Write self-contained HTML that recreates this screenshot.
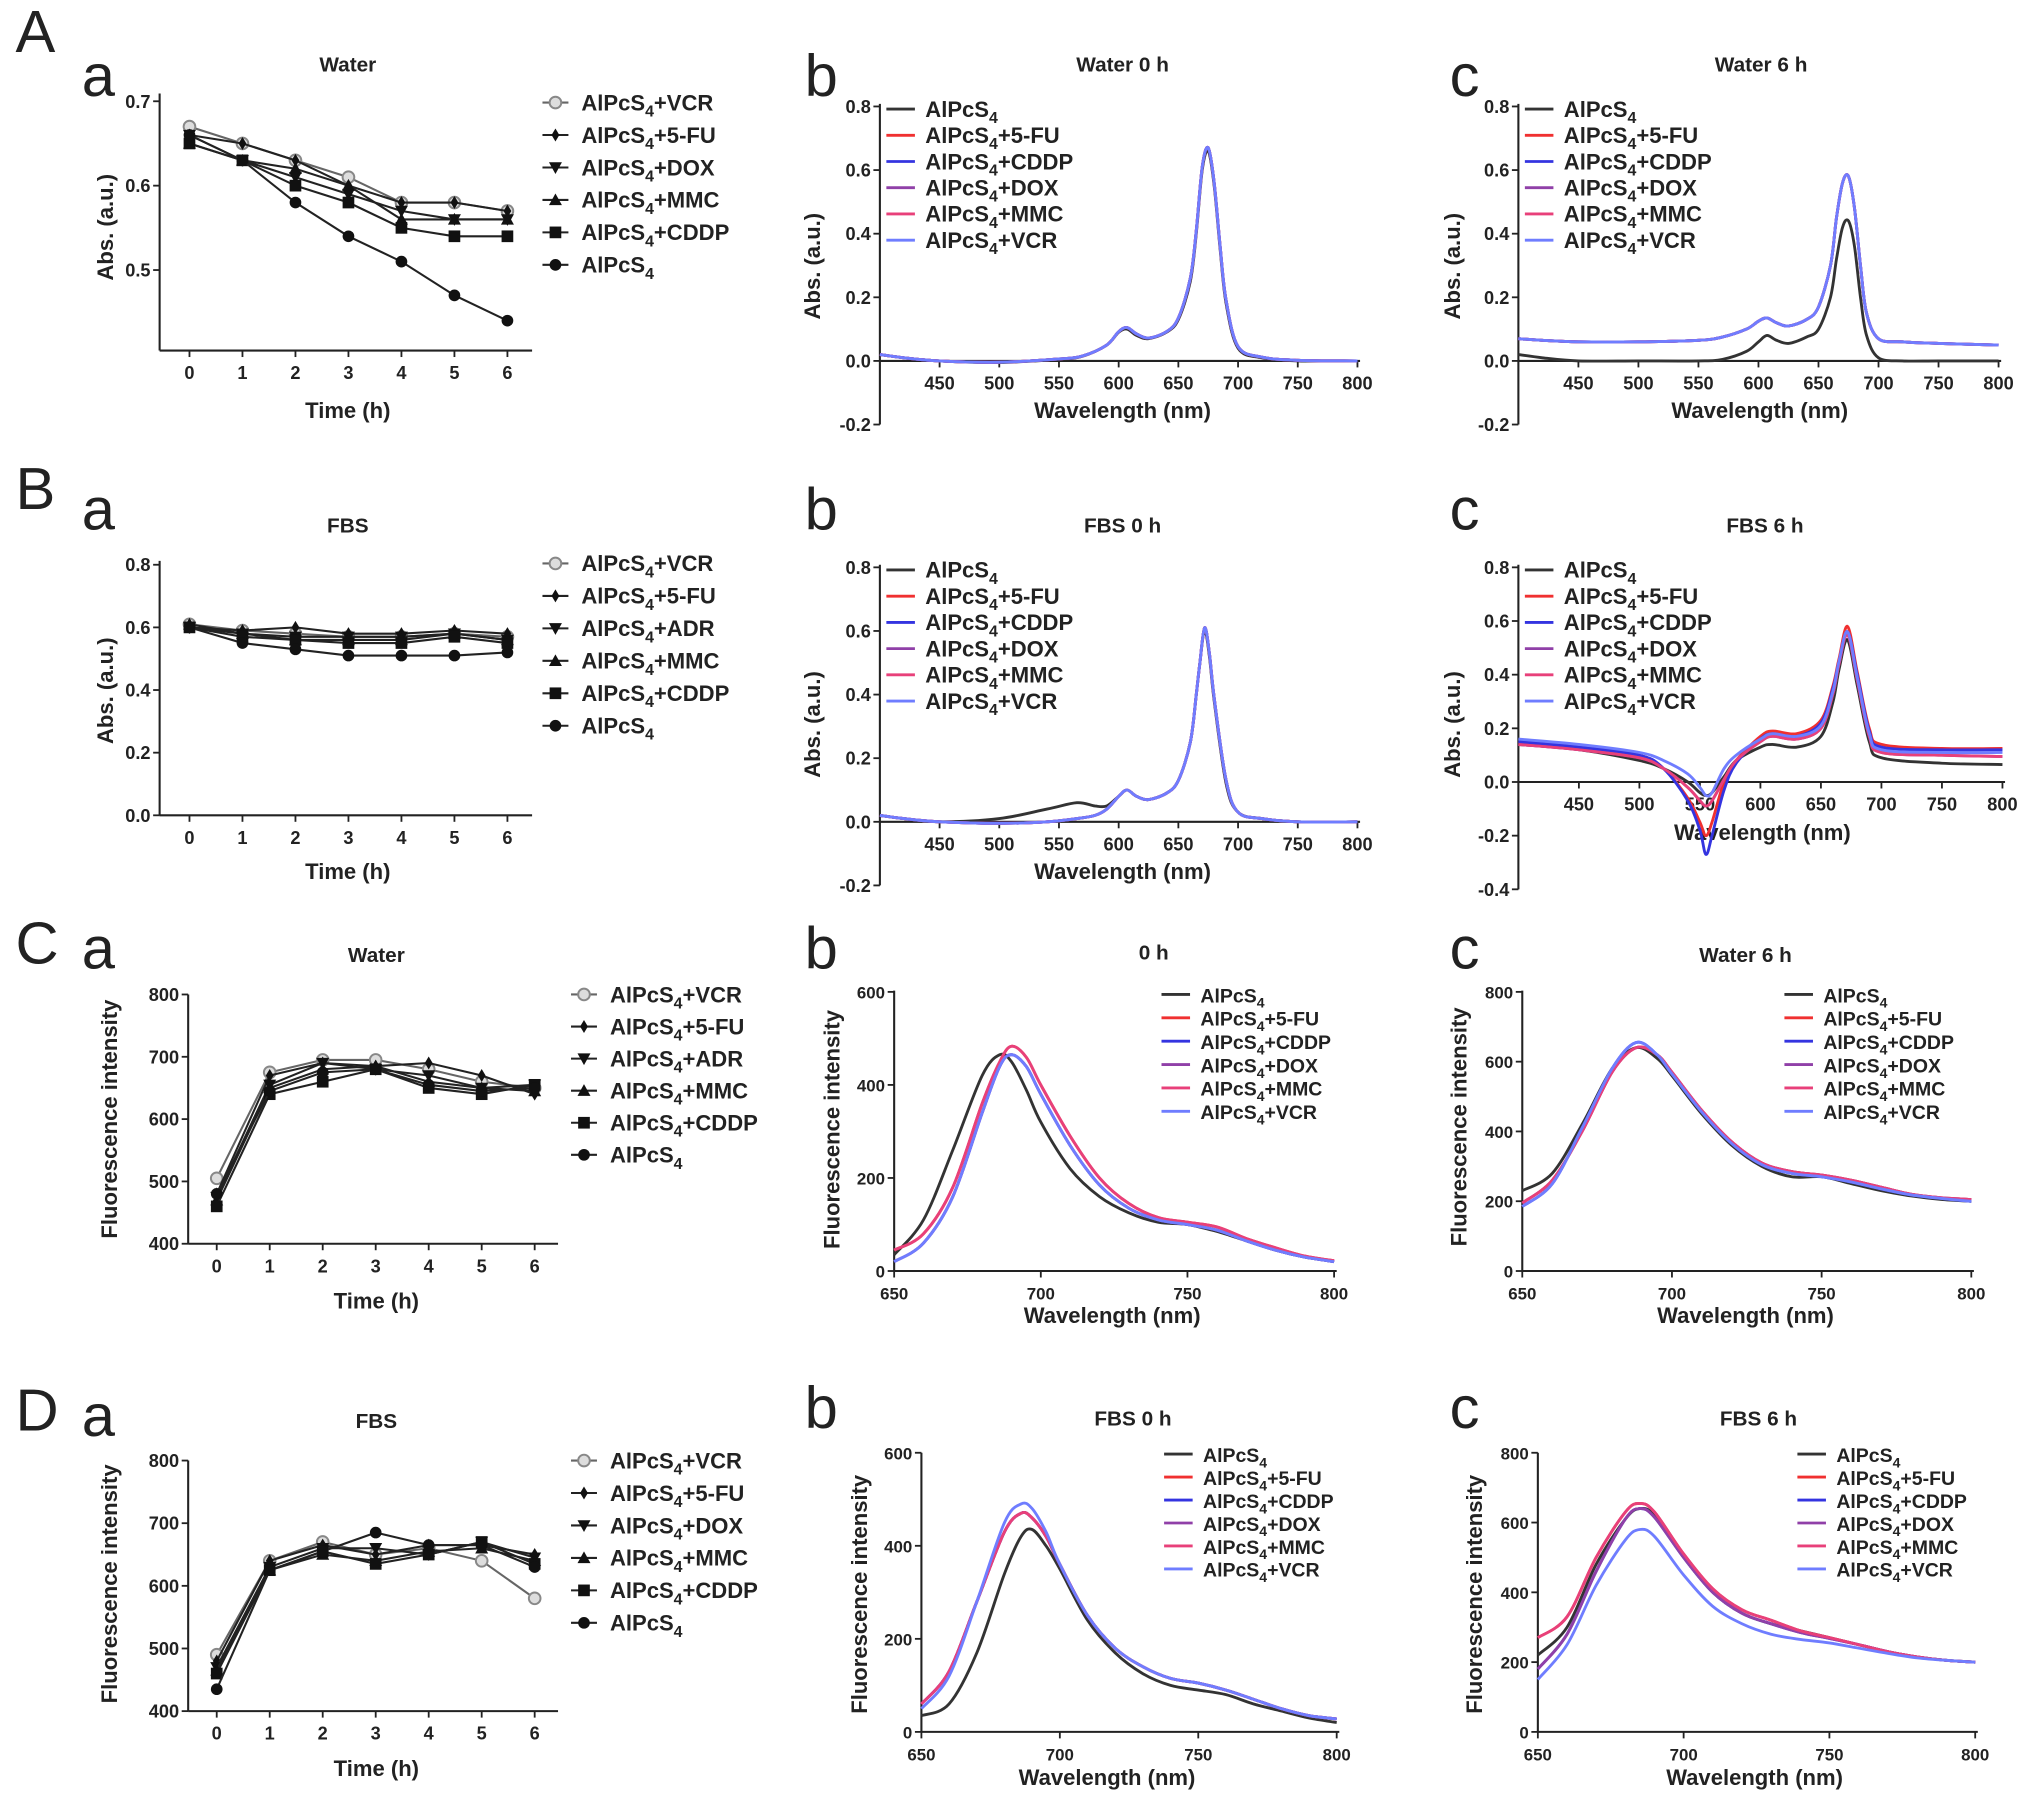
<!DOCTYPE html>
<html><head><meta charset="utf-8"><style>
html,body{margin:0;padding:0;background:#fff;}
svg{display:block;font-family:"Liberation Sans",Arial,sans-serif;}
</style></head><body>
<svg id="fig" width="2031" height="1802" viewBox="0 0 1565 1388" preserveAspectRatio="none" xmlns="http://www.w3.org/2000/svg"></svg>
<script>
// ---------- data ----------
const timeCats=[0,1,2,3,4,5,6];
// A-a Water absorbance
const aaVCR=[0.67,0.65,0.63,0.61,0.58,0.58,0.57];
const aa5FU=[0.66,0.65,0.63,0.60,0.58,0.58,0.57];
const aaDOX=[0.66,0.63,0.61,0.59,0.57,0.56,0.56];
const aaMMC=[0.65,0.63,0.62,0.60,0.56,0.56,0.56];
const aaCDDP=[0.65,0.63,0.60,0.58,0.55,0.54,0.54];
const aaAl=[0.66,0.63,0.58,0.54,0.51,0.47,0.44];
// B-a FBS absorbance
const baVCR=[0.61,0.59,0.58,0.57,0.57,0.58,0.57];
const ba5FU=[0.60,0.59,0.60,0.58,0.58,0.59,0.58];
const baADR=[0.60,0.58,0.57,0.57,0.57,0.58,0.56];
const baMMC=[0.61,0.58,0.56,0.56,0.56,0.58,0.56];
const baCDDP=[0.60,0.57,0.56,0.55,0.55,0.57,0.55];
const baAl=[0.60,0.55,0.53,0.51,0.51,0.51,0.52];
// C-a Water fluorescence
const caVCR=[505,675,695,695,680,660,650];
const ca5FU=[480,670,690,685,690,670,640];
const caADR=[475,655,690,680,670,650,655];
const caMMC=[470,650,680,685,660,650,645];
const caCDDP=[460,640,660,680,650,640,655];
const caAl=[480,645,675,680,655,645,650];
// D-a FBS fluorescence
const daVCR=[490,640,670,650,660,640,580];
const da5FU=[480,640,665,650,665,665,650];
const daDOX=[470,630,660,660,650,670,645];
const daMMC=[465,625,650,640,655,660,640];
const daCDDP=[460,625,655,635,650,670,635];
const daAl=[435,625,655,685,665,665,630];
// A-b Water 0 h absorbance spectra
const abWL=[400,420,450,500,550,570,590,600,607,615,625,640,650,660,665,670,675,680,685,690,700,720,750,800];
const abAl=[0.02,0.01,0,-0.005,0.005,0.015,0.05,0.09,0.1,0.08,0.07,0.09,0.13,0.25,0.4,0.6,0.66,0.55,0.35,0.18,0.04,0.01,0,0];
const abCol=[0.02,0.01,0,-0.004,0.006,0.016,0.05,0.092,0.105,0.085,0.072,0.092,0.135,0.26,0.41,0.61,0.67,0.56,0.36,0.19,0.045,0.012,0.002,0];
// A-c Water 6 h
const acWL=abWL;
const acAl=[0.02,0.01,0,0,0,0.005,0.03,0.06,0.08,0.065,0.055,0.075,0.1,0.2,0.32,0.42,0.44,0.36,0.2,0.08,0.01,0,0,0];
const acCol=[0.07,0.065,0.06,0.06,0.065,0.075,0.1,0.125,0.135,0.12,0.11,0.13,0.17,0.3,0.45,0.56,0.58,0.48,0.3,0.15,0.07,0.06,0.055,0.05];
// B-b FBS 0 h
const bbWL=[400,420,450,500,540,565,580,590,600,607,615,625,640,650,660,665,668,672,676,680,690,700,720,750,800];
const bbAl=[0.02,0.01,0,0.01,0.04,0.06,0.05,0.05,0.08,0.1,0.08,0.07,0.09,0.13,0.25,0.4,0.5,0.6,0.52,0.38,0.12,0.03,0.01,0,0];
const bbCol=[0.02,0.01,0,-0.005,0,0.01,0.02,0.04,0.08,0.1,0.08,0.07,0.09,0.13,0.25,0.4,0.5,0.61,0.53,0.39,0.13,0.03,0.01,0,0];
// B-c FBS 6 h
const bcWL=[400,450,500,520,540,550,555,560,570,580,600,610,630,650,660,665,672,680,690,700,750,800];
const bcAl=[0.14,0.12,0.08,0.05,0.0,-0.04,-0.05,-0.04,0.02,0.08,0.13,0.14,0.13,0.17,0.3,0.42,0.53,0.36,0.15,0.09,0.07,0.065];
const bcRed=[0.15,0.13,0.1,0.05,-0.06,-0.15,-0.2,-0.15,0.0,0.08,0.17,0.19,0.18,0.23,0.36,0.46,0.58,0.41,0.2,0.14,0.125,0.125];
const bcCDDP=[0.15,0.13,0.1,0.05,-0.07,-0.18,-0.27,-0.2,-0.03,0.07,0.16,0.18,0.17,0.22,0.35,0.45,0.56,0.4,0.19,0.13,0.12,0.12];
const bcDOX=[0.14,0.12,0.09,0.05,-0.02,-0.07,-0.09,-0.07,0.01,0.08,0.15,0.17,0.16,0.2,0.33,0.44,0.55,0.38,0.17,0.11,0.1,0.095];
const bcVCR=[0.16,0.14,0.11,0.08,0.03,-0.02,-0.05,-0.04,0.05,0.1,0.16,0.18,0.17,0.21,0.34,0.45,0.56,0.39,0.18,0.12,0.11,0.11];
// C-b 0 h fluorescence
const cbWL=[650,660,670,680,686,690,695,700,710,720,730,740,750,760,770,780,790,800];
const cbAl=[35,110,260,420,465,450,390,320,220,160,125,105,100,85,65,45,30,20];
const cbRed=[45,80,180,360,450,483,460,400,290,200,145,115,105,95,70,50,32,22];
const cbBlue=[20,60,160,340,440,465,440,380,270,185,135,110,100,88,65,45,30,20];
// C-c Water 6 h fluorescence
const ccWL=[650,660,670,680,688,695,700,710,720,730,740,750,760,770,780,790,800];
const ccAl=[230,280,420,580,640,610,560,450,360,300,270,270,250,230,215,205,200];
const ccRed=[195,260,400,570,640,620,570,460,370,310,285,275,260,240,220,210,205];
const ccBlue=[185,250,410,580,655,620,565,455,365,305,280,270,255,235,218,208,200];
// D-b FBS 0 h fluorescence
const dbWL=[650,660,670,680,686,690,695,700,710,720,730,740,750,760,770,780,790,800];
const dbAl=[35,60,170,340,420,435,400,350,240,170,125,100,90,80,60,45,30,20];
const dbRed=[60,130,280,430,470,460,420,360,250,180,140,115,105,90,70,50,35,28];
const dbVCR=[50,120,280,450,490,480,430,360,250,180,140,115,105,90,70,50,35,28];
// D-c FBS 6 h fluorescence
const dcWL=[650,660,670,680,685,690,700,710,720,730,740,750,760,770,780,790,800];
const dcAl=[220,300,480,610,640,620,500,400,340,310,290,270,250,230,215,205,200];
const dcRed=[270,330,500,630,655,630,510,410,350,320,290,270,250,230,215,205,200];
const dcVCR=[150,250,420,550,580,560,450,360,310,280,265,255,240,225,212,205,200];
const dcCDDP=[180,280,460,610,640,615,500,400,340,310,285,268,250,230,215,205,200];

const absTicks=["-0.2","0.0","0.2","0.4","0.6","0.8"];
const wlTicksA=["450","500","550","600","650","700","750","800"];
const wlTicksF=["650","700","750","800"];

// ---------- drawing ----------
const NS="http://www.w3.org/2000/svg";
const svg=document.getElementById('fig');
function mk(tag,attrs,parent){const e=document.createElementNS(NS,tag);for(const k in attrs)e.setAttribute(k,attrs[k]);(parent||svg).appendChild(e);return e;}
function txt(s,x,y,size,anchor,parent,bold,rot){const e=mk('text',{x:x,y:y,'font-size':size,'text-anchor':anchor||'middle',fill:'#222','font-weight':bold===false?'normal':'bold'},parent);if(rot)e.setAttribute('transform','rotate(-90 '+x+' '+y+')');e.textContent=s;return e;}
function lbl(name,x,y,size,parent){const e=mk('text',{x:x,y:y,'font-size':size,'font-weight':'bold',fill:'#222'},parent);
  const a=mk('tspan',{},e);a.textContent='AlPcS';const b=mk('tspan',{dy:size*0.28,'font-size':size*0.72},e);b.textContent='4';
  if(name){const c=mk('tspan',{dy:-size*0.28},e);c.textContent='+'+name;}return e;}

function scale(d0,d1,r0,r1){return v=>r0+(v-d0)*(r1-r0)/(d1-d0);}
function smoothPath(P){
  let d='M'+P[0][0].toFixed(1)+','+P[0][1].toFixed(1);
  for(let i=0;i<P.length-1;i++){
    const p0=P[Math.max(0,i-1)],p1=P[i],p2=P[i+1],p3=P[Math.min(P.length-1,i+2)];
    const c1x=p1[0]+(p2[0]-p0[0])/6,c1y=p1[1]+(p2[1]-p0[1])/6;
    const c2x=p2[0]-(p3[0]-p1[0])/6,c2y=p2[1]-(p3[1]-p1[1])/6;
    d+=' C'+c1x.toFixed(1)+','+c1y.toFixed(1)+' '+c2x.toFixed(1)+','+c2y.toFixed(1)+' '+p2[0].toFixed(1)+','+p2[1].toFixed(1);
  }
  return d;
}

function axes(g,o){
  const px=scale(o.xd0,o.xd1,o.xr0,o.xr1), py=scale(o.yd0,o.yd1,o.yr0,o.yr1);
  const yaxis=mk('line',{x1:o.left,x2:o.left,y1:o.top,y2:o.bottom,stroke:'#222','stroke-width':1.6},g);
  
  const xy=o.xAxisAt!==undefined?py(o.xAxisAt):o.bottom;
  const xaxis=mk('line',{x1:o.left,x2:o.right,y1:xy,y2:xy,stroke:'#222','stroke-width':1.6},g);
  
  o.yt.forEach(t=>{const y=py(parseFloat(t));mk('line',{x1:o.left-5,x2:o.left,y1:y,y2:y,stroke:'#222','stroke-width':1.4},g);
    const e=txt(t,o.left-7,y+5,o.tfs||14,'end',g);});
  o.xt.forEach(t=>{const x=px(parseFloat(t));mk('line',{x1:x,x2:x,y1:xy,y2:xy+5,stroke:'#222','stroke-width':1.4},g);
    const e=txt(t,x,xy+22,o.tfs||14,'middle',g);});
  let e=txt(o.title,o.titleX,o.titleY,16,'middle',g);
  e=txt(o.xlab,o.xlabX,o.xlabY,17,'middle',g);
  e=txt(o.ylab,o.ylabX,o.ylabY,17,'middle',g,true,true);
  return [px,py];
}

function marker(g,type,x,y){
  let e;
  if(type==='open') e=mk('circle',{cx:x,cy:y,r:4.5,fill:'#ddd',stroke:'#888','stroke-width':1.5},g);
  else if(type==='circle') e=mk('circle',{cx:x,cy:y,r:4.5,fill:'#111'},g);
  else if(type==='square') e=mk('rect',{x:x-4.5,y:y-4.5,width:9,height:9,fill:'#111'},g);
  else if(type==='up') e=mk('polygon',{points:`${x},${y-5} ${x-5},${y+4} ${x+5},${y+4}`,fill:'#111'},g);
  else if(type==='down') e=mk('polygon',{points:`${x},${y+5} ${x-5},${y-4} ${x+5},${y-4}`,fill:'#111'},g);
  else e=mk('polygon',{points:`${x},${y-5} ${x+3},${y} ${x},${y+5} ${x-3},${y}`,fill:'#111'},g);
  return e;
}

function timePanel(o,series,legX,legY0,legDy,legFs){
  const g=mk('g',{});  
  const [px,py]=axes(g,o);
  series.forEach((s,i)=>{
    const pts=s.v.map((v,j)=>px(timeCats[j])+','+py(v)).join(' ');
    const pl=mk('polyline',{points:pts,fill:'none',stroke:s.type==='open'?'#666':'#222','stroke-width':1.6},g);
    
    s.v.forEach((v,j)=>{const m=marker(g,s.type,px(timeCats[j]),py(v));});
    const ly=legY0+i*legDy;
    const lg=mk('g',{},g);
    mk('line',{x1:legX,x2:legX+20,y1:ly,y2:ly,stroke:s.type==='open'?'#666':'#222','stroke-width':1.6},lg);
    marker(lg,s.type,legX+10,ly);
    lbl(s.name,legX+30,ly+6,legFs,lg);
  });
}

function specPanel(o,wl,series,legX,legY0,legDy,legFs){
  const g=mk('g',{});  
  const [px,py]=axes(g,o);
  series.forEach((s,i)=>{
    const P=s.v.map((v,j)=>[px(wl[j]),py(v)]);
    const pl=mk('path',{d:smoothPath(P),fill:'none',stroke:s.c,'stroke-width':2.2,'stroke-linejoin':'round'},g);
    
  });
  series.forEach((s,i)=>{
    const ly=legY0+i*legDy;
    const lg=mk('g',{},g);
    mk('line',{x1:legX,x2:legX+22,y1:ly,y2:ly,stroke:s.c,'stroke-width':2.2},lg);
    lbl(s.name,legX+30,ly+6,legFs,lg);
  });
}

const C={al:'#333',red:'#f03030',blue:'#3434e0',dox:'#9040a8',mmc:'#e8407a',vcr:'#6f7dff'};

// Panel letters
[['A',12,40],['B',12,392],['C',12,742],['D',12,1102]].forEach(l=>{const e=txt(l[0],l[1],l[2],46,'start',svg,false);});
[['a',63,74],['b',620,74],['c',1117,74],['a',63,408],['b',620,408],['c',1117,408],['a',63,746],['b',620,746],['c',1117,746],['a',63,1106],['b',620,1100],['c',1117,1100]].forEach(l=>{const e=txt(l[0],l[1],l[2],46,'start',svg,false);});

// A-a
timePanel({name:'panel-A-a',left:123,right:410,top:72,bottom:270,xd0:0,xd1:6,xr0:146,xr1:391,yd0:0.5,yd1:0.7,yr0:208,yr1:78,
  yt:["0.5","0.6","0.7"],xt:["0","1","2","3","4","5","6"],title:'Water',titleX:268,titleY:55,xlab:'Time (h)',xlabX:268,xlabY:322,ylabX:87,ylabY:175,ylab:'Abs. (a.u.)'},
  [{key:'vcr',name:'VCR',type:'open',v:aaVCR},{key:'5fu',name:'5-FU',type:'diamond',v:aa5FU},{key:'dox',name:'DOX',type:'down',v:aaDOX},
   {key:'mmc',name:'MMC',type:'up',v:aaMMC},{key:'cddp',name:'CDDP',type:'square',v:aaCDDP},{key:'alpcs4',name:'',type:'circle',v:aaAl}],418,79,25,17);
// B-a
timePanel({name:'panel-B-a',left:123,right:410,top:432,bottom:628,xd0:0,xd1:6,xr0:146,xr1:391,yd0:0,yd1:0.8,yr0:628,yr1:435,
  yt:["0.0","0.2","0.4","0.6","0.8"],xt:["0","1","2","3","4","5","6"],title:'FBS',titleX:268,titleY:410,xlab:'Time (h)',xlabX:268,xlabY:677,ylabX:87,ylabY:532,ylab:'Abs. (a.u.)'},
  [{key:'vcr',name:'VCR',type:'open',v:baVCR},{key:'5fu',name:'5-FU',type:'diamond',v:ba5FU},{key:'adr',name:'ADR',type:'down',v:baADR},
   {key:'mmc',name:'MMC',type:'up',v:baMMC},{key:'cddp',name:'CDDP',type:'square',v:baCDDP},{key:'alpcs4',name:'',type:'circle',v:baAl}],418,434,25,17);
// C-a
timePanel({name:'panel-C-a',left:145,right:430,top:766,bottom:958,xd0:0,xd1:6,xr0:167,xr1:412,yd0:400,yd1:800,yr0:958,yr1:766,
  yt:["400","500","600","700","800"],xt:["0","1","2","3","4","5","6"],title:'Water',titleX:290,titleY:741,xlab:'Time (h)',xlabX:290,xlabY:1008,ylabX:90,ylabY:862,ylab:'Fluorescence intensity'},
  [{key:'vcr',name:'VCR',type:'open',v:caVCR},{key:'5fu',name:'5-FU',type:'diamond',v:ca5FU},{key:'adr',name:'ADR',type:'down',v:caADR},
   {key:'mmc',name:'MMC',type:'up',v:caMMC},{key:'cddp',name:'CDDP',type:'square',v:caCDDP},{key:'alpcs4',name:'',type:'circle',v:caAl}],440,766,24.7,17);
// D-a
timePanel({name:'panel-D-a',left:145,right:430,top:1125,bottom:1318,xd0:0,xd1:6,xr0:167,xr1:412,yd0:400,yd1:800,yr0:1318,yr1:1125,
  yt:["400","500","600","700","800"],xt:["0","1","2","3","4","5","6"],title:'FBS',titleX:290,titleY:1100,xlab:'Time (h)',xlabX:290,xlabY:1368,ylabX:90,ylabY:1220,ylab:'Fluorescence intensity'},
  [{key:'vcr',name:'VCR',type:'open',v:daVCR},{key:'5fu',name:'5-FU',type:'diamond',v:da5FU},{key:'dox',name:'DOX',type:'down',v:daDOX},
   {key:'mmc',name:'MMC',type:'up',v:daMMC},{key:'cddp',name:'CDDP',type:'square',v:daCDDP},{key:'alpcs4',name:'',type:'circle',v:daAl}],440,1125,25,17);

// A-b
specPanel({name:'panel-A-b',left:678,right:1048,top:80,bottom:327,xd0:400,xd1:800,xr0:678,xr1:1046,yd0:-0.2,yd1:0.8,yr0:327,yr1:82,xAxisAt:0,
  yt:absTicks,xt:wlTicksA,title:'Water 0 h',titleX:865,titleY:55,xlab:'Wavelength (nm)',xlabX:865,xlabY:322,ylabX:632,ylabY:205,ylab:'Abs. (a.u.)'},abWL,
  [{key:'alpcs4',name:'',c:C.al,v:abAl},{key:'5fu',name:'5-FU',c:C.red,v:abCol},{key:'cddp',name:'CDDP',c:C.blue,v:abCol},
   {key:'dox',name:'DOX',c:C.dox,v:abCol},{key:'mmc',name:'MMC',c:C.mmc,v:abCol},{key:'vcr',name:'VCR',c:C.vcr,v:abCol}],683,84,20.2,17);
// A-c
specPanel({name:'panel-A-c',left:1170,right:1542,top:80,bottom:327,xd0:400,xd1:800,xr0:1170,xr1:1540,yd0:-0.2,yd1:0.8,yr0:327,yr1:82,xAxisAt:0,
  yt:absTicks,xt:wlTicksA,title:'Water 6 h',titleX:1357,titleY:55,xlab:'Wavelength (nm)',xlabX:1356,xlabY:322,ylabX:1125,ylabY:205,ylab:'Abs. (a.u.)'},acWL,
  [{key:'alpcs4',name:'',c:C.al,v:acAl},{key:'5fu',name:'5-FU',c:C.red,v:acCol},{key:'cddp',name:'CDDP',c:C.blue,v:acCol},
   {key:'dox',name:'DOX',c:C.dox,v:acCol},{key:'mmc',name:'MMC',c:C.mmc,v:acCol},{key:'vcr',name:'VCR',c:C.vcr,v:acCol}],1175,84,20.2,17);
// B-b
specPanel({name:'panel-B-b',left:678,right:1048,top:435,bottom:682,xd0:400,xd1:800,xr0:678,xr1:1046,yd0:-0.2,yd1:0.8,yr0:682,yr1:437,xAxisAt:0,
  yt:absTicks,xt:wlTicksA,title:'FBS 0 h',titleX:865,titleY:410,xlab:'Wavelength (nm)',xlabX:865,xlabY:677,ylabX:632,ylabY:558,ylab:'Abs. (a.u.)'},bbWL,
  [{key:'alpcs4',name:'',c:C.al,v:bbAl},{key:'5fu',name:'5-FU',c:C.red,v:bbCol},{key:'cddp',name:'CDDP',c:C.blue,v:bbCol},
   {key:'dox',name:'DOX',c:C.dox,v:bbCol},{key:'mmc',name:'MMC',c:C.mmc,v:bbCol},{key:'vcr',name:'VCR',c:C.vcr,v:bbCol}],683,439,20.2,17);
// B-c
specPanel({name:'panel-B-c',left:1170,right:1545,top:435,bottom:685,xd0:400,xd1:800,xr0:1170,xr1:1543,yd0:-0.4,yd1:0.8,yr0:685,yr1:437,xAxisAt:0,
  yt:["-0.4","-0.2","0.0","0.2","0.4","0.6","0.8"],xt:wlTicksA,title:'FBS 6 h',titleX:1360,titleY:410,xlab:'Wavelength (nm)',xlabX:1358,xlabY:647,ylabX:1125,ylabY:558,ylab:'Abs. (a.u.)'},bcWL,
  [{key:'alpcs4',name:'',c:C.al,v:bcAl},{key:'5fu',name:'5-FU',c:C.red,v:bcRed},{key:'cddp',name:'CDDP',c:C.blue,v:bcCDDP},
   {key:'dox',name:'DOX',c:C.dox,v:bcDOX},{key:'mmc',name:'MMC',c:C.mmc,v:bcDOX},{key:'vcr',name:'VCR',c:C.vcr,v:bcVCR}],1175,439,20.2,17);
// C-b
specPanel({name:'panel-C-b',left:689,right:1030,top:763,bottom:979,xd0:650,xd1:800,xr0:689,xr1:1028,yd0:0,yd1:600,yr0:979,yr1:764,
  yt:["0","200","400","600"],xt:wlTicksF,title:'0 h',titleX:889,titleY:739,xlab:'Wavelength (nm)',xlabX:857,xlabY:1019,ylabX:647,ylabY:870,ylab:'Fluorescence intensity',tfs:13},cbWL,
  [{key:'alpcs4',name:'',c:C.al,v:cbAl},{key:'5fu',name:'5-FU',c:C.red,v:cbRed},{key:'cddp',name:'CDDP',c:C.blue,v:cbBlue},
   {key:'dox',name:'DOX',c:C.dox,v:cbBlue},{key:'mmc',name:'MMC',c:C.mmc,v:cbRed},{key:'vcr',name:'VCR',c:C.vcr,v:cbBlue}],895,766,18,15);
// C-c
specPanel({name:'panel-C-c',left:1173,right:1521,top:763,bottom:979,xd0:650,xd1:800,xr0:1173,xr1:1519,yd0:0,yd1:800,yr0:979,yr1:764,
  yt:["0","200","400","600","800"],xt:wlTicksF,title:'Water 6 h',titleX:1345,titleY:741,xlab:'Wavelength (nm)',xlabX:1345,xlabY:1019,ylabX:1130,ylabY:868,ylab:'Fluorescence intensity',tfs:13},ccWL,
  [{key:'alpcs4',name:'',c:C.al,v:ccAl},{key:'5fu',name:'5-FU',c:C.red,v:ccRed},{key:'cddp',name:'CDDP',c:C.blue,v:ccBlue},
   {key:'dox',name:'DOX',c:C.dox,v:ccRed},{key:'mmc',name:'MMC',c:C.mmc,v:ccRed},{key:'vcr',name:'VCR',c:C.vcr,v:ccBlue}],1375,766,18,15);
// D-b
specPanel({name:'panel-D-b',left:710,right:1032,top:1119,bottom:1334,xd0:650,xd1:800,xr0:710,xr1:1030,yd0:0,yd1:600,yr0:1334,yr1:1119,
  yt:["0","200","400","600"],xt:wlTicksF,title:'FBS 0 h',titleX:873,titleY:1098,xlab:'Wavelength (nm)',xlabX:853,xlabY:1375,ylabX:668,ylabY:1228,ylab:'Fluorescence intensity',tfs:13},dbWL,
  [{key:'alpcs4',name:'',c:C.al,v:dbAl},{key:'5fu',name:'5-FU',c:C.red,v:dbRed},{key:'cddp',name:'CDDP',c:C.blue,v:dbRed},
   {key:'dox',name:'DOX',c:C.dox,v:dbRed},{key:'mmc',name:'MMC',c:C.mmc,v:dbRed},{key:'vcr',name:'VCR',c:C.vcr,v:dbVCR}],897,1120,17.7,15);
// D-c
specPanel({name:'panel-D-c',left:1185,right:1524,top:1119,bottom:1334,xd0:650,xd1:800,xr0:1185,xr1:1522,yd0:0,yd1:800,yr0:1334,yr1:1119,
  yt:["0","200","400","600","800"],xt:wlTicksF,title:'FBS 6 h',titleX:1355,titleY:1098,xlab:'Wavelength (nm)',xlabX:1352,xlabY:1375,ylabX:1142,ylabY:1228,ylab:'Fluorescence intensity',tfs:13},dcWL,
  [{key:'alpcs4',name:'',c:C.al,v:dcAl},{key:'5fu',name:'5-FU',c:C.red,v:dcRed},{key:'cddp',name:'CDDP',c:C.blue,v:dcCDDP},
   {key:'dox',name:'DOX',c:C.dox,v:dcCDDP},{key:'mmc',name:'MMC',c:C.mmc,v:dcRed},{key:'vcr',name:'VCR',c:C.vcr,v:dcVCR}],1385,1120,17.7,15);
</script>
</body></html>
